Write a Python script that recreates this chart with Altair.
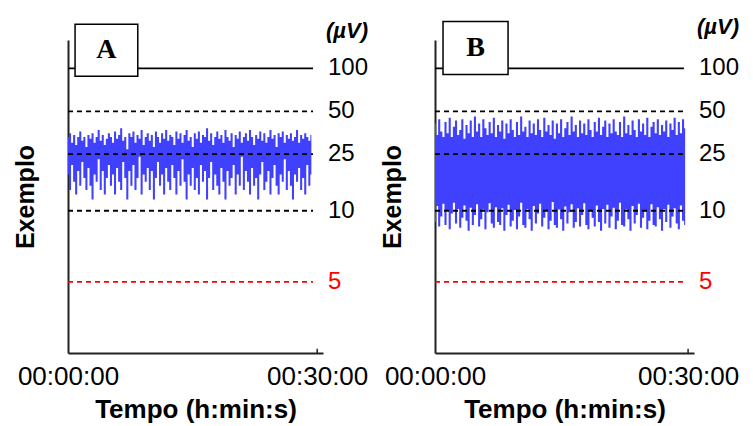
import altair as alt
import pandas as pd
import numpy as np

# ---------------- data ----------------
levels = [100, 50, 25, 10, 5]
level_labels = ["100", "50", "25", "10", "5"]
level_colors = ["black", "black", "black", "black", "red"]
level_dash = ["solid", "dash", "dash", "dash", "dash"]
x_ticks = [0, 30]
x_tick_labels = ["00:00:00", "00:30:00"]
unit_label = "(µV)"
panel_names = ["A", "B"]

# panel A envelopes (µV), one value per column
a_hi = [33, 35, 30, 34, 29, 33, 36, 31, 33, 28,
        34, 32, 35, 30, 33, 37, 31, 34, 29, 32,
        35, 33, 30, 36, 32, 34, 38, 31, 33, 27,
        35, 33, 36, 30, 34, 32, 37, 29, 33, 35,
        31, 34, 28, 36, 33, 30, 35, 32, 37, 31,
        34, 33, 29, 36, 32, 35, 30, 34, 37, 31,
        33, 28, 35, 32, 36, 30, 34, 33, 38, 31,
        35, 29, 33, 36, 32, 34, 30, 37, 33, 31,
        35, 28, 34, 32, 36, 30, 33, 35, 31, 37,
        33, 29, 34, 32, 36, 31, 35, 30, 33, 37,
        32, 34, 28, 35, 33, 36, 30, 34, 32, 35,
        31, 33, 37, 30, 34, 32, 35, 33, 31, 34]
a_lo = [18, 14, 21, 16, 13, 19, 15, 22, 17, 14,
        20, 15, 12, 18, 16, 23, 14, 19, 13, 17,
        21, 15, 18, 13, 20, 16, 14, 22, 17, 12,
        19, 15, 21, 14, 17, 24, 13, 18, 16, 20,
        14, 19, 12, 17, 22, 15, 18, 13, 20, 16,
        14, 21, 17, 13, 19, 15, 23, 16, 12, 18,
        15, 20, 14, 17, 13, 21, 16, 19, 12, 17,
        22, 14, 18, 15, 13, 20, 16, 12, 19, 15,
        17, 21, 13, 18, 15, 24, 14, 19, 16, 13,
        20, 15, 17, 12, 18, 22, 14, 16, 19, 13,
        17, 21, 15, 13, 18, 16, 23, 14, 19, 15,
        12, 18, 16, 20, 14, 17, 13, 21, 15, 18]

# panel B envelopes (µV)
b_hi = [41, 34, 44, 36, 33, 42, 35, 45, 33, 39,
        43, 34, 37, 44, 32, 40, 35, 43, 33, 46,
        36, 41, 33, 44, 38, 34, 42, 35, 45, 33,
        40, 36, 43, 32, 41, 35, 44, 37, 33, 42,
        34, 46, 36, 39, 33, 43, 35, 41, 34, 44,
        37, 33, 45, 36, 40, 34, 43, 32, 41, 35,
        44, 33, 38, 42, 34, 46, 36, 40, 33, 43,
        35, 41, 34, 44, 37, 33, 42, 36, 45, 34,
        39, 43, 33, 41, 35, 44, 36, 34, 42, 33,
        46, 35, 40, 34, 43, 37, 33, 44, 36, 41,
        34, 45, 33, 39, 42, 35, 44, 34, 40, 36,
        43, 33, 41, 37, 45, 34, 42, 35, 44, 38]
b_lo = [9.2, 10.8, 8.9, 9.6, 11.2, 9.0, 10.1, 8.7, 9.8, 11.4,
        9.1, 10.3, 8.8, 9.5, 10.9, 9.3, 8.6, 10.5, 9.0, 9.7,
        11.1, 8.9, 9.4, 10.2, 8.7, 9.9, 11.3, 9.1, 8.8, 10.6,
        9.2, 9.0, 10.4, 8.6, 9.7, 11.0, 8.9, 9.3, 10.1, 8.7,
        9.6, 11.4, 9.0, 8.8, 10.3, 9.4, 8.6, 10.8, 9.1, 9.8,
        11.2, 8.9, 9.5, 10.0, 8.7, 9.3, 11.5, 9.0, 8.8, 10.2,
        9.4, 8.6, 10.7, 9.1, 9.9, 11.1, 8.8, 9.2, 10.4, 8.9,
        9.7, 11.3, 9.0, 8.7, 10.1, 9.5, 8.9, 10.9, 9.2, 8.6,
        10.3, 9.1, 11.0, 8.8, 9.6, 10.5, 8.7, 9.3, 11.4, 9.0,
        8.9, 10.2, 9.4, 8.6, 10.8, 9.1, 9.7, 11.2, 8.8, 9.5,
        10.0, 8.7, 9.3, 11.1, 9.0, 8.9, 10.6, 9.4, 8.6, 10.3,
        9.2, 11.0, 8.8, 9.6, 10.4, 9.1, 8.7, 10.9, 9.3, 9.0]

# recording span (minutes)
a_span, b_span = 29.3, 29.65
line_end = 29.5


def amp(v):
    """aEEG-style amplitude scale: linear 0-10 µV, logarithmic 10-100 µV."""
    v = np.asarray(v, dtype=float)
    return np.where(v <= 10, v / 10.0, 1 + np.log10(np.maximum(v, 1e-9) / 10.0))


BLUE = "#4040ff"
FONT = "Liberation Sans"
H = 313
AXC = "#222222"

XAXIS = alt.Axis(values=x_ticks,
                 labelExpr=f"datum.value == 0 ? '{x_tick_labels[0]}' : '{x_tick_labels[1]}'",
                 ticks=False, grid=False, labelFlush=False, labelOverlap=False,
                 labelFont=FONT, labelFontSize=26, labelColor="black", labelPadding=10,
                 domainColor=AXC, domainWidth=2,
                 title="Tempo (h:min:s)", titleFont=FONT, titleFontSize=26,
                 titleFontWeight="bold", titleColor="black", titlePadding=7)
YAXIS = alt.Axis(labels=False, ticks=False, grid=False,
                 domainColor=AXC, domainWidth=2,
                 title="Exemplo", titleFont=FONT, titleFontSize=25,
                 titleFontWeight="bold", titleColor="black", titlePadding=30)


def panel(name, hi, lo, span, width, box, unit_t):
    xs = alt.Scale(domain=[0, 30.7], nice=False, zero=False)
    ys = alt.Scale(domain=[0, 2.2], nice=False, zero=False)

    def X(f):
        return alt.X(f, scale=xs, axis=XAXIS)

    def Y(f):
        return alt.Y(f, scale=ys, axis=YAXIS)

    n = len(hi)
    sig = pd.DataFrame({
        "min": [i * span / (n - 1) for i in range(n)],
        "hi": amp(hi),
        "lo": amp(lo),
    })
    area = alt.Chart(sig).mark_area(interpolate="step", color=BLUE, opacity=1).encode(
        x=X("min:Q"), y=Y("hi:Q"), y2="lo:Q")
    lv = pd.DataFrame({
        "t": amp(levels), "label": level_labels, "color": level_colors,
        "dash": level_dash, "x0": 0.0, "x1": line_end,
    })
    rules = alt.Chart(lv).mark_rule(strokeWidth=1.8).encode(
        x=X("x0:Q"), x2="x1:Q", y=Y("t:Q"),
        color=alt.Color("color:N", scale=None),
        strokeDash=alt.StrokeDash("dash:N", scale=alt.Scale(domain=["solid", "dash"],
                                                             range=[[1, 0], [5, 4]]), legend=None),
    )
    labels = alt.Chart(lv).mark_text(align="left", baseline="middle", font=FONT, fontSize=24).encode(
        x=alt.value(width + 5), y=Y("t:Q"), text="label:N",
        color=alt.Color("color:N", scale=None))
    unit = alt.Chart(pd.DataFrame({"t": [unit_t], "u": [unit_label]})).mark_text(
        align="left", baseline="middle", font=FONT, fontSize=22, fontStyle="italic",
        fontWeight="bold").encode(
        x=alt.value(width + 3), y=Y("t:Q"), text="u:N", color=alt.value("black"))
    tick = alt.Chart(pd.DataFrame({"x": [x_ticks[1]], "y0": [0.0], "y1": [0.03]})).mark_rule(
        color=AXC, strokeWidth=1.5).encode(x=X("x:Q"), y=Y("y0:Q"), y2="y1:Q")
    bx = pd.DataFrame({"x0": [box[0]], "x1": [box[1]], "y0": [box[2]], "y1": [box[3]],
                       "xm": [(box[0] + box[1]) / 2], "ym": [(box[2] + box[3]) / 2], "n": [name]})
    rect = alt.Chart(bx).mark_rect(fill="white", stroke="black", strokeWidth=1.5).encode(
        x=X("x0:Q"), x2="x1:Q", y=Y("y0:Q"), y2="y1:Q")
    letter = alt.Chart(bx).mark_text(font="Liberation Serif", fontSize=28, fontWeight="bold",
                                     baseline="middle", align="center").encode(
        x=X("xm:Q"), y=Y("ym:Q"), text="n:N", color=alt.value("black"))
    return alt.layer(area, rules, labels, unit, tick, rect, letter).properties(width=width, height=H)


pa = panel(panel_names[0], a_hi, a_lo, a_span, 255, [0.85, 8.4, 1.945, 2.31], 2.26)
pb = panel(panel_names[1], b_hi, b_lo, b_span, 259, [0.95, 8.66, 1.957, 2.33], 2.29)

chart = alt.hconcat(pa, pb, spacing=11).properties(
    padding={"left": 5, "top": 8, "right": 5, "bottom": 5}
).configure_view(stroke=None)

chart.save("out.html", embed_options={"renderer": "svg", "actions": False})
